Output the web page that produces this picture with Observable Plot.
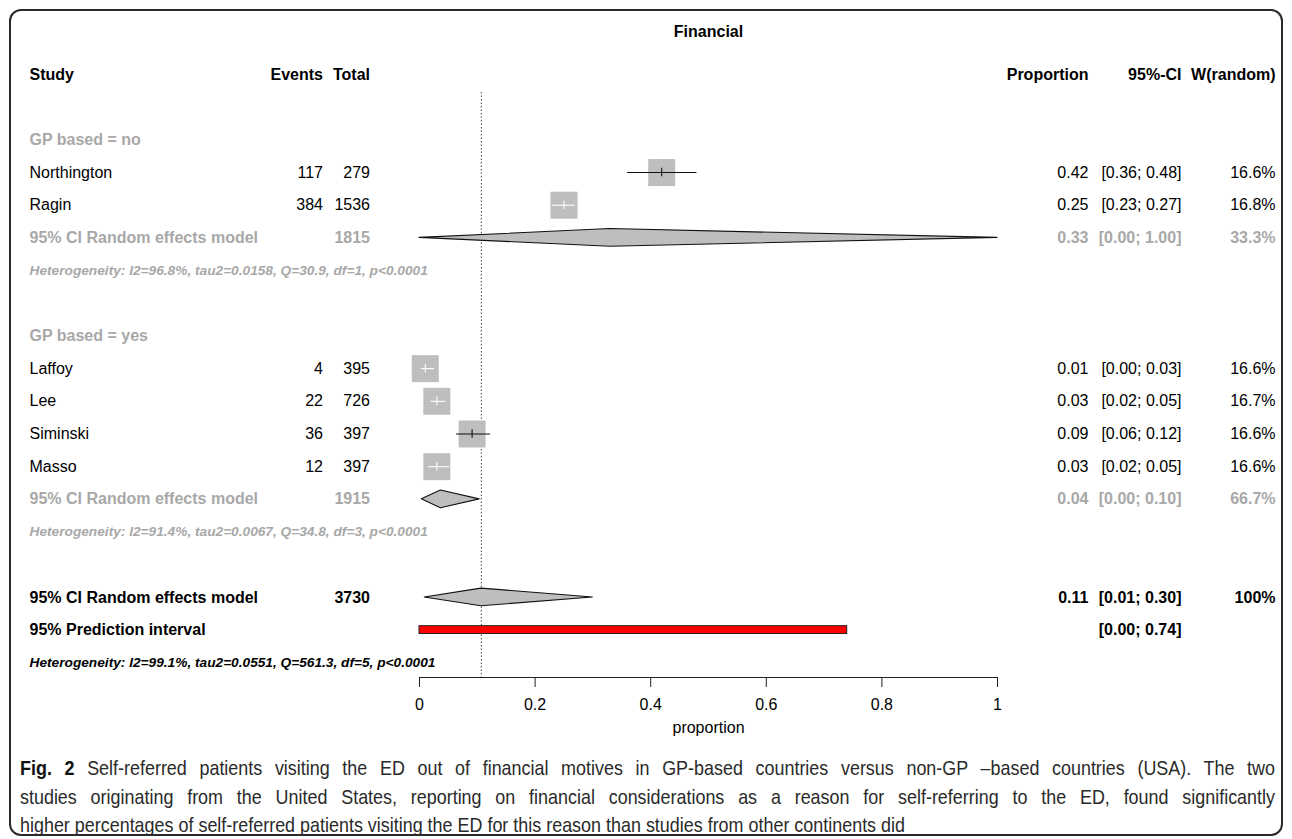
<!DOCTYPE html>
<html>
<head>
<meta charset="utf-8">
<script src="https://cdn.jsdelivr.net/npm/d3@7"></script>
<script src="https://cdn.jsdelivr.net/npm/@observablehq/plot@0.6"></script>
<style>
  html, body { margin:0; padding:0; background:#fff; width:1292px; height:839px; overflow:hidden; }
  #frame { position:absolute; left:9px; top:9px; width:1274px; height:827px; box-sizing:border-box;
           border:2px solid #2a2a2a; border-radius:12px; }
  #chart { position:absolute; left:0; top:0; }
  #caption { position:absolute; left:20px; top:754px; transform-origin:0 0;
             font-family:"Liberation Sans Narrow","Liberation Sans",Arial,sans-serif; font-size:21px; color:#2a2a2a; }
  .cl { white-space:nowrap; height:28.6px; line-height:28.6px; }
  .cl.j { text-align:justify; text-align-last:justify; }
  .cl b { color:#111; }
</style>
</head>
<body>
<div id="frame"></div>
<div id="chart"></div>
<div id="caption"></div>
<script>
// ---------- data ----------
const title = "Financial";
const headers = ["Study", "Events", "Total", "Proportion", "95%-CI", "W(random)"];
const studies = ["Northington", "Ragin", "Laffoy", "Lee", "Siminski", "Masso"];
const studyGroup = ["no", "no", "yes", "yes", "yes", "yes"];
const events = [117, 384, 4, 22, 36, 12];
const totals = [279, 1536, 395, 726, 397, 397];
const props = [0.419, 0.250, 0.010, 0.030, 0.091, 0.030];
const ciLow = [0.36, 0.23, 0.003, 0.02, 0.064, 0.016];
const ciHigh = [0.48, 0.27, 0.026, 0.046, 0.123, 0.052];
const weights = [16.6, 16.8, 16.6, 16.7, 16.6, 16.6];

const groups = ["no", "yes"];
const groupLabels = ["GP based = no", "GP based = yes"];
const groupTotals = [1815, 1915];
const groupEst = [0.33, 0.037];
const groupLow = [0.0, 0.004];
const groupHigh = [1.0, 0.104];
const groupWeights = [33.3, 66.7];
const groupHet = [
  "Heterogeneity: I2=96.8%, tau2=0.0158, Q=30.9, df=1, p<0.0001",
  "Heterogeneity: I2=91.4%, tau2=0.0067, Q=34.8, df=3, p<0.0001"
];
const modelLabel = "95% CI Random effects model";
const overallTotal = 3730;
const overallEst = 0.107;
const overallLow = 0.009;
const overallHigh = 0.30;
const overallWeight = "100%";
const predLabel = "95% Prediction interval";
const predLow = 0.0;
const predHigh = 0.74;
const overallHet = "Heterogeneity: I2=99.1%, tau2=0.0551, Q=561.3, df=5, p<0.0001";
const xTicks = [0, 0.2, 0.4, 0.6, 0.8, 1];
const xLabel = "proportion";

const captionLines = [
  ["Fig. 2", " Self-referred patients visiting the ED out of financial motives in GP-based countries versus non-GP \u2013based countries (USA). The two"],
  ["", "studies originating from the United States, reporting on financial considerations as a reason for self-referring to the ED, found significantly"],
  ["", "higher percentages of self-referred patients visiting the ED for this reason than studies from other continents did"]
];

// ---------- layout helpers ----------
const GREY = "#a8a8a8";
const BOXGREY = "#bebebe";
const FONT = "Liberation Sans, Arial, Helvetica, sans-serif";
const f2 = d3.format(".2f");
const f1 = d3.format(".1f");
const ciTxt = (a, b) => `[${f2(a)}; ${f2(b)}]`;
// column anchors, in proportion units of the x scale
const colX = {study: -0.6747, events: -0.167, total: -0.0856, prop: 1.1574, ci: 1.3183, w: 1.481};
const colAnchor = {study: "start", events: "end", total: "end", prop: "end", ci: "end", w: "end"};

// ---------- rows ----------
const rows = [];
rows.push({row: 0, kind: "header", study: headers[0], events: headers[1], total: headers[2],
           prop: headers[3], ci: headers[4], w: headers[5]});
let r = 2;
const diamonds = [];
groups.forEach((g, gi) => {
  rows.push({row: r++, kind: "group", study: groupLabels[gi]});
  studies.forEach((s, i) => {
    if (studyGroup[i] !== g) return;
    rows.push({row: r++, kind: "study", study: s, events: String(events[i]), total: String(totals[i]),
               prop: f2(props[i]), ci: ciTxt(ciLow[i], ciHigh[i]), w: f1(weights[i]) + "%",
               est: props[i], lo: ciLow[i], hi: ciHigh[i]});
  });
  diamonds.push({id: "g" + gi, row: r, est: groupEst[gi], lo: groupLow[gi], hi: groupHigh[gi]});
  rows.push({row: r++, kind: "re", study: modelLabel, total: String(groupTotals[gi]),
             prop: f2(groupEst[gi]), ci: ciTxt(groupLow[gi], groupHigh[gi]), w: f1(groupWeights[gi]) + "%"});
  rows.push({row: r++, kind: "het", study: groupHet[gi]});
  r += 1;
});
diamonds.push({id: "all", row: r, est: overallEst, lo: overallLow, hi: overallHigh});
rows.push({row: r++, kind: "overall", study: modelLabel, total: String(overallTotal),
           prop: f2(overallEst), ci: ciTxt(overallLow, overallHigh), w: overallWeight});
const predRow = r;
rows.push({row: r++, kind: "pi", study: predLabel, ci: ciTxt(predLow, predHigh)});
rows.push({row: r++, kind: "ohet", study: overallHet});
const lastRow = r - 1;

const styles = {
  header:  {fill: "#000", fontWeight: "bold", fontSize: 16},
  group:   {fill: GREY, fontWeight: "bold", fontSize: 16},
  study:   {fill: "#000", fontWeight: "normal", fontSize: 16},
  re:      {fill: GREY, fontWeight: "bold", fontSize: 16},
  het:     {fill: GREY, fontWeight: "bold", fontStyle: "italic", fontSize: 13.7},
  overall: {fill: "#000", fontWeight: "bold", fontSize: 16},
  pi:      {fill: "#000", fontWeight: "bold", fontSize: 16},
  ohet:    {fill: "#000", fontWeight: "bold", fontStyle: "italic", fontSize: 13.7}
};

const textMarks = [];
for (const kind of Object.keys(styles)) {
  for (const col of Object.keys(colX)) {
    const data = rows.filter(d => d.kind === kind && d[col] != null);
    if (!data.length) continue;
    textMarks.push(Plot.text(data, {
      x: () => colX[col], y: "row", text: col, textAnchor: colAnchor[col],
      fontFamily: FONT, ...styles[kind]
    }));
  }
}

// squares & CI lines
const BOX_PX = 27, PX_PER_UNIT = 578;
const studyRows = rows.filter(d => d.kind === "study").map(d => ({
  ...d, lineColor: (d.hi - d.lo) * PX_PER_UNIT <= BOX_PX ? "#ffffff" : "#111111"
}));

// diamond polygons
const DH = 0.27; // half height in rows
const diamondPts = diamonds.flatMap(d => [
  {id: d.id, x: d.lo, y1: d.row, y2: d.row},
  {id: d.id, x: d.est, y1: d.row - DH, y2: d.row + DH},
  {id: d.id, x: d.hi, y1: d.row, y2: d.row}
]);

const axisRow = lastRow + 0.45;
const chart = Plot.plot({
  width: 1292, height: 760,
  marginLeft: 419, marginRight: 295, marginTop: 31, marginBottom: 83,
  style: {fontFamily: FONT, background: "transparent", color: "#000"},
  x: {domain: [0, 1], axis: null},
  y: {domain: [-1.315, axisRow], reverse: true, axis: null},
  marks: [
    Plot.frame({anchor: "bottom", stroke: "#222"}),
    Plot.axisX({ticks: xTicks, tickSize: 10, tickPadding: 11, tickFormat: d => String(d),
                fontSize: 16, fontFamily: FONT, stroke: "#222", label: null}),
    Plot.text([xLabel], {x: () => 0.5, y: () => lastRow + 2, text: d => d, fontSize: 16, fontFamily: FONT}),
    Plot.text([title], {x: () => 0.5, y: () => -1.315, text: d => d, fontSize: 16, fontWeight: "bold", fontFamily: FONT}),
    Plot.ruleX([overallEst], {x: d => d, y1: () => 0.55, y2: () => axisRow, stroke: "#444", strokeDasharray: "1.5,2"}),
    Plot.area(diamondPts, {x1: "x", y1: "y1", y2: "y2", z: "id", fill: BOXGREY, stroke: "#111", strokeWidth: 1.1, curve: "linear"}),
    Plot.rect([{x1: predLow, x2: predHigh, y1: predRow - 0.12, y2: predRow + 0.12}],
              {x1: "x1", x2: "x2", y1: "y1", y2: "y2", fill: "#ff0000", stroke: "#222", strokeWidth: 1}),
    Plot.dot(studyRows, {x: "est", y: "row", symbol: "square", r: BOX_PX / Math.sqrt(Math.PI), fill: BOXGREY, stroke: "none"}),
    Plot.ruleY(studyRows, {y: "row", x1: "lo", x2: "hi", stroke: "lineColor", strokeWidth: 1.1}),
    Plot.ruleX(studyRows, {x: "est", y1: d => d.row - 0.13, y2: d => d.row + 0.13, stroke: "lineColor", strokeWidth: 1.1}),
    ...textMarks
  ]
});
document.getElementById("chart").appendChild(chart);

// ---------- caption ----------
const cap = document.getElementById("caption");
const TARGET = 1255;      // justified line width
const LAST_WIDTH = 885;   // width of the last (unjustified) line
const lines = captionLines.map(([bold, rest]) => {
  const div = document.createElement("div");
  div.className = "cl";
  const span = document.createElement("span");
  if (bold) { const b = document.createElement("b"); b.textContent = bold; span.appendChild(b); }
  span.appendChild(document.createTextNode(rest));
  div.appendChild(span);
  cap.appendChild(div);
  return {div, span};
});
const natural = lines.map(l => l.span.getBoundingClientRect().width);
let s = LAST_WIDTH / natural[2];
s = Math.min(s, TARGET / Math.max(natural[0], natural[1]));
cap.style.transform = `scaleX(${s})`;
lines.forEach((l, i) => {
  l.div.style.width = (TARGET / s) + "px";
  if (i < lines.length - 1) l.div.classList.add("j");
  l.div.innerHTML = l.span.innerHTML;
});
</script>
</body>
</html>
